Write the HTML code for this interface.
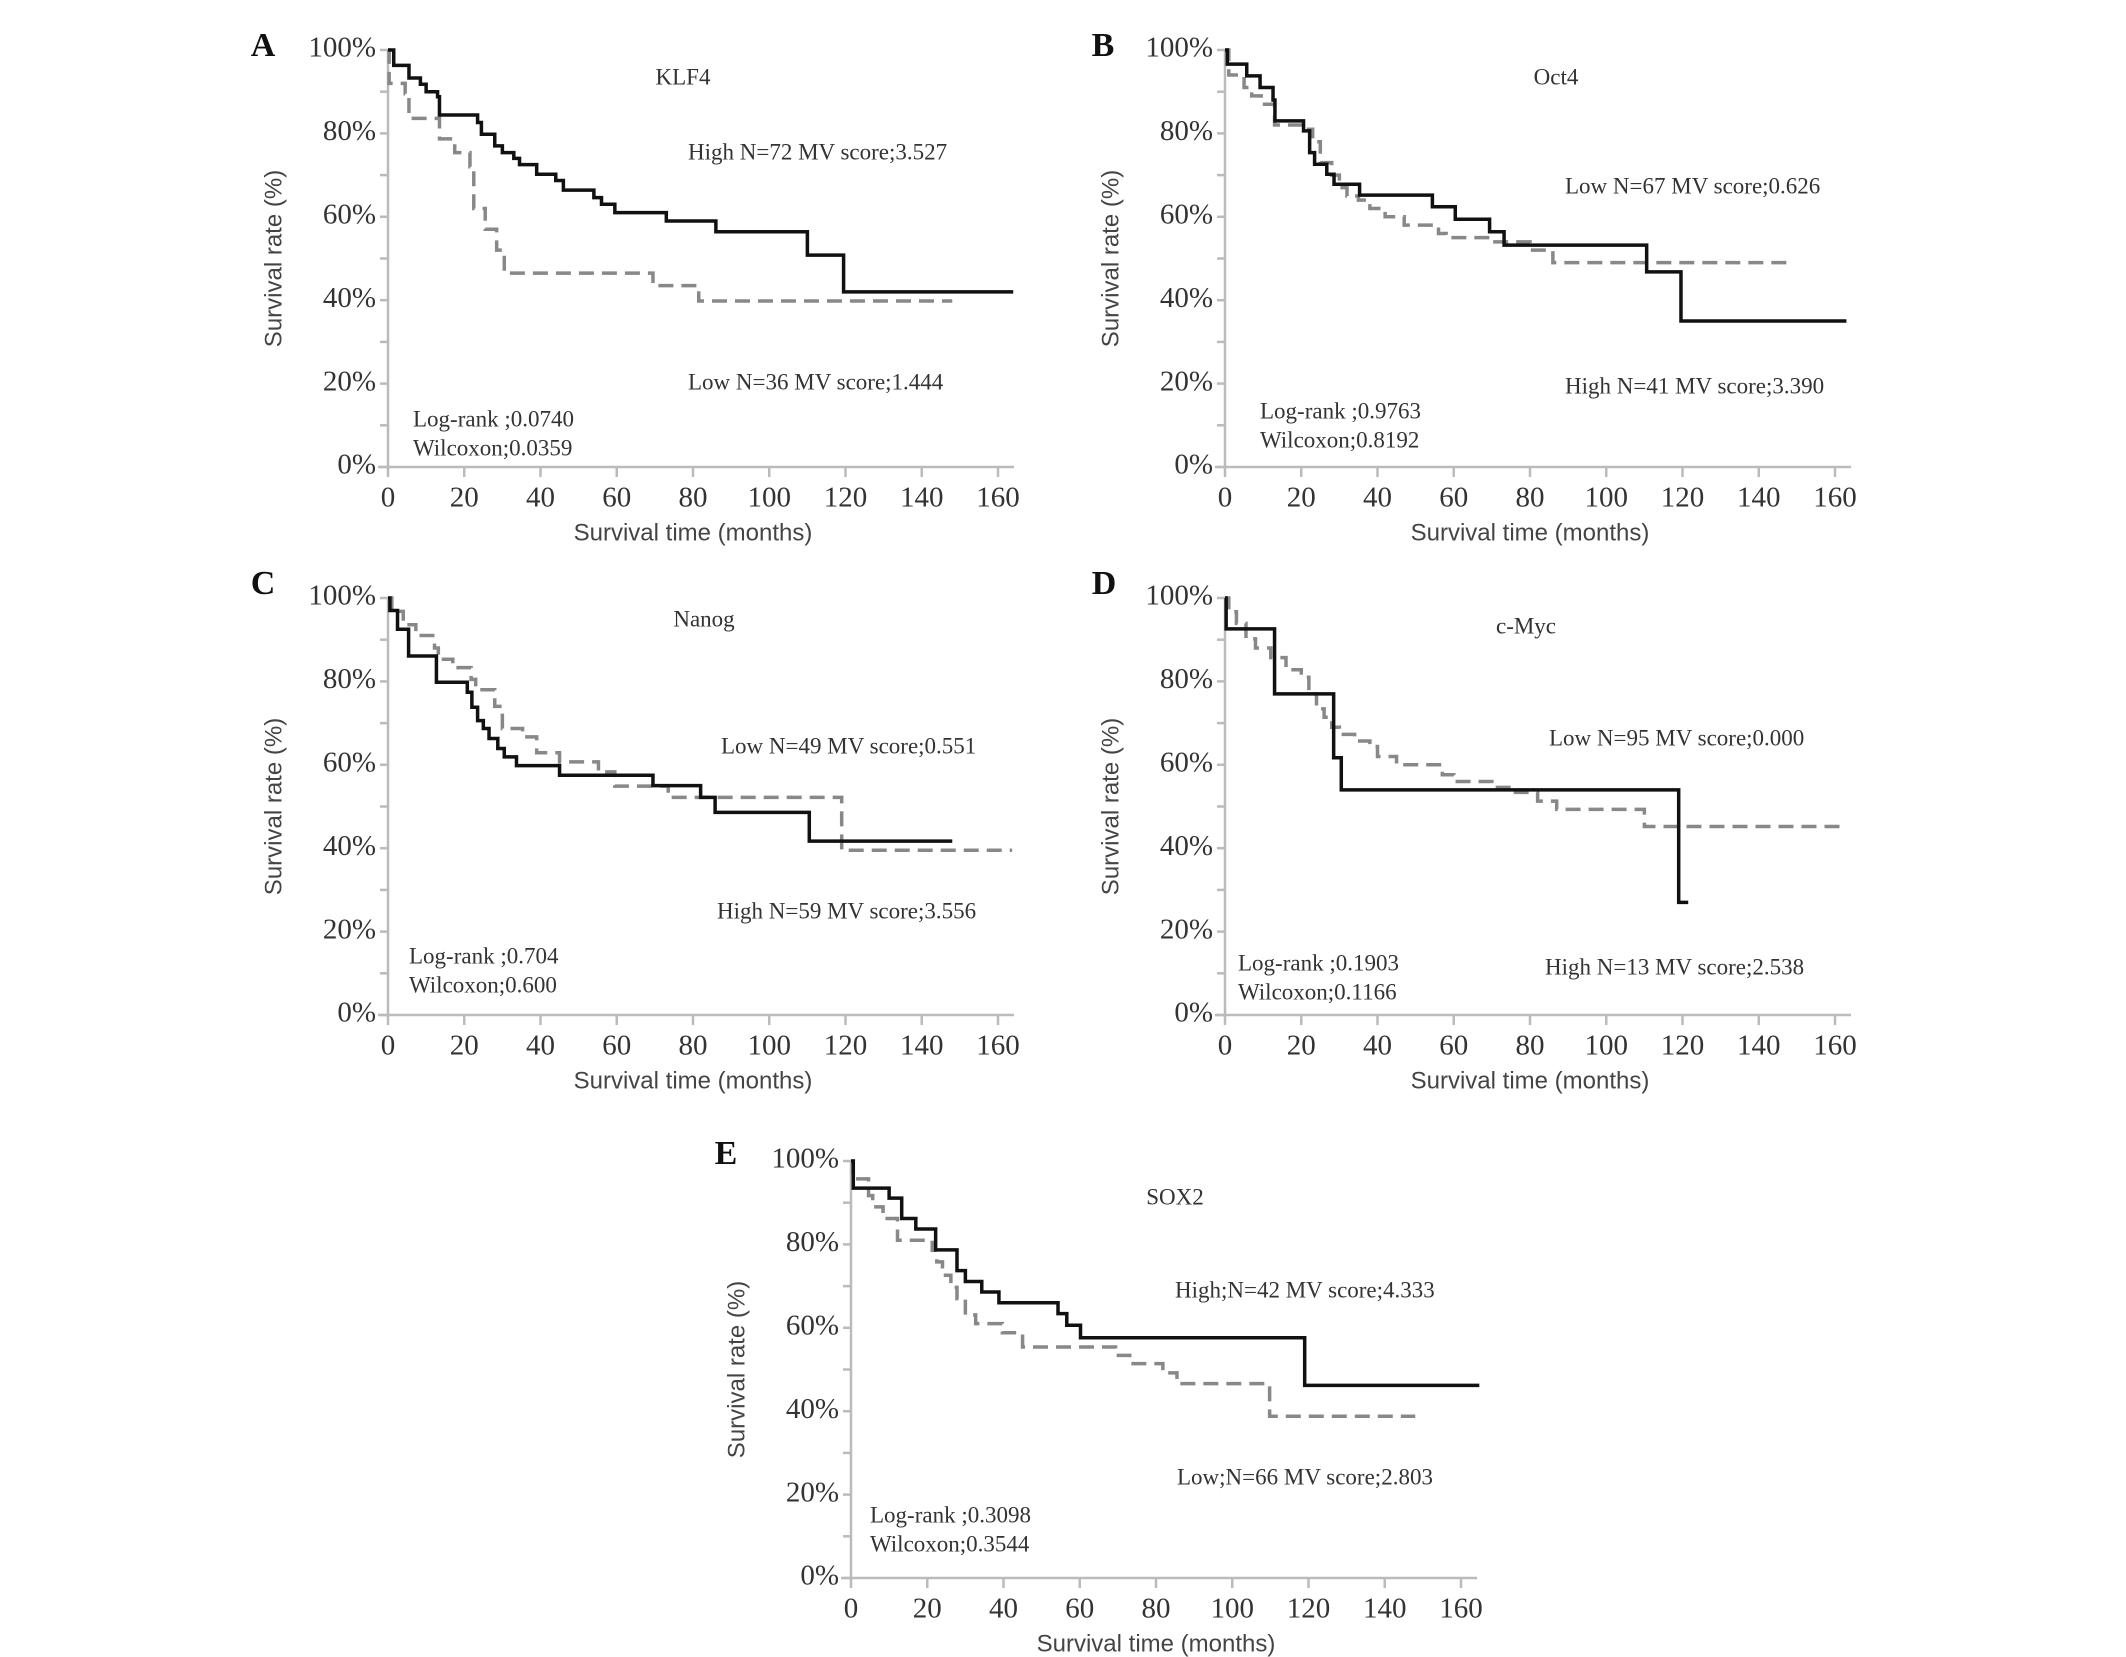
<!DOCTYPE html>
<html><head><meta charset="utf-8">
<style>
html,body{margin:0;padding:0;background:#fff;}
svg{display:block;}
.tk{font-family:"Liberation Serif",serif;font-size:29px;fill:#333;}
.ax{font-family:"Liberation Sans",sans-serif;font-size:24px;fill:#444;}
.an{font-family:"Liberation Serif",serif;font-size:23px;fill:#333;}
.pl{font-family:"Liberation Serif",serif;font-size:34px;font-weight:bold;fill:#111;}
</style></head>
<body>
<svg id="fig" width="2126" height="1657" viewBox="0 0 2126 1657" xmlns="http://www.w3.org/2000/svg"></svg>
<script>
// ---- data (months, survival %) ----
const xTicks = [0,20,40,60,80,100,120,140,160];
const yTicks = [0,20,40,60,80,100];

const aHighT = [0,1.5,5.5,8.5,10,13,13.5,23.5,24.5,28,30,33,34.5,39,44,46,54,56,59.5,73,86,110,119.5,164];
const aHighS = [100,96.3,93.3,91.8,90,88.8,84.4,82.6,79.8,77,75.4,74,72.5,70.2,68.7,66.4,64.6,63,61,59,56.4,50.8,42,42];
const aLowT = [0,0.3,4.5,5.5,13.5,17.5,21.5,22.5,25.5,28.5,30.5,69.5,81.5,148];
const aLowS = [100,92,89.5,83.6,78.7,75.4,72,62,57,52,46.5,43.5,39.8,39.8];

const bHighT = [0,0.6,5.7,9.2,12.6,13.1,20.6,22.2,23.5,26.7,28.6,35.3,54.4,60.4,69.4,73.2,110.6,119.6,163];
const bHighS = [100,96.6,93.8,91,88,83,80.6,75.4,72.6,70.2,67.8,65.2,62.4,59.4,56.4,53.2,46.8,35,35];
const bLowT = [0,1,5,7,9.5,13,20,23,25,28,30,32,35,38,42,47,56,58,70,80,86,148];
const bLowS = [100,94,91,89,87,82,81,78,73,70,67,65,64,62,60,58,56,55,54,52,49,49];

const cHighT = [0,0.5,2.5,5.4,12.7,20.8,22,23.5,25,26.5,28.8,30.5,33.7,45,69.5,82,85.8,110.5,148];
const cHighS = [100,97,92.5,86.1,79.8,77.4,73.8,70.6,68.7,66.3,63.9,61.9,59.8,57.5,55,52.2,48.6,41.7,41.7];
const cLowT = [0,1,4,7.3,12.2,13.2,17,21.8,23,28,30,35.3,39,45,55.2,59.5,73.5,119,163.7];
const cLowS = [100,96.8,93.6,91,88,85.3,83.3,80.5,78,74,68.7,66.7,62.9,60.7,58.3,54.9,52.2,39.5,39.5];

const dHighT = [0,0.3,13,28.5,30.5,119,121.5];
const dHighS = [100,92.6,77,61.7,54,27,27];
const dLowT = [0,1,3,5.5,8,12,16,20,22,24,26,28,30,34,38,40,45,57,60,70,75,82,87,110,163];
const dLowS = [100,96.7,93.9,90.2,88,85.7,82.8,81,77,73.4,71.4,69,67.3,65.7,64.4,62,60,57.6,56,54.6,53.4,51.3,49.3,45.2,45.2];

const eHighT = [0,0.6,10,13.3,17,22.2,27.8,30,34.3,38.8,54.3,56.6,60.2,119,164.8];
const eHighS = [100,93.5,91.1,86.2,83.7,78.7,73.7,71.1,68.6,66,63.4,60.6,57.6,46.2,46.2];
const eLowT = [0,0.5,4.6,5.7,8.4,12.2,21.3,22.5,24,26.2,27.8,30,32.7,39.7,45,69.4,73.1,81.8,85.5,109.8,148];
const eLowS = [100,95.7,91.7,89,86.2,81,78.6,75.8,72.6,69.7,67,63.1,61,58.8,55.4,53.4,51.4,49.2,46.6,38.8,38.8];

// ---- layout ----
const panels = [
 {id:'a',letter:'A',x0:388,y0:50,title:'KLF4',tx:295,ty:29,
  s1:{t:aHighT,s:aHighS,solid:true},s2:{t:aLowT,s:aLowS,solid:false},
  upper:'High N=72 MV score;3.527',ux:300,uy:104,lower:'Low N=36 MV score;1.444',lx:300,ly:334,
  lr:'Log-rank ;0.0740',wc:'Wilcoxon;0.0359',sx:25,sy:371,lpx:263,lpy:48},
 {id:'b',letter:'B',x0:1225,y0:50,title:'Oct4',tx:331,ty:29,
  s1:{t:bHighT,s:bHighS,solid:true},s2:{t:bLowT,s:bLowS,solid:false},
  upper:'Low N=67 MV score;0.626',ux:340,uy:138,lower:'High N=41 MV score;3.390',lx:340,ly:338,
  lr:'Log-rank ;0.9763',wc:'Wilcoxon;0.8192',sx:35,sy:363,lpx:1103,lpy:48},
 {id:'c',letter:'C',x0:388,y0:598,title:'Nanog',tx:316,ty:23,
  s1:{t:cHighT,s:cHighS,solid:true},s2:{t:cLowT,s:cLowS,solid:false},
  upper:'Low N=49 MV score;0.551',ux:333,uy:150,lower:'High N=59 MV score;3.556',lx:329,ly:315,
  lr:'Log-rank ;0.704',wc:'Wilcoxon;0.600',sx:21,sy:360,lpx:263,lpy:586},
 {id:'d',letter:'D',x0:1225,y0:598,title:'c-Myc',tx:301,ty:30,
  s1:{t:dHighT,s:dHighS,solid:true},s2:{t:dLowT,s:dLowS,solid:false},
  upper:'Low N=95 MV score;0.000',ux:324,uy:142,lower:'High N=13 MV score;2.538',lx:320,ly:371,
  lr:'Log-rank ;0.1903',wc:'Wilcoxon;0.1166',sx:13,sy:367,lpx:1104,lpy:586},
 {id:'e',letter:'E',x0:851,y0:1161,title:'SOX2',tx:324,ty:38,
  s1:{t:eHighT,s:eHighS,solid:true},s2:{t:eLowT,s:eLowS,solid:false},
  upper:'High;N=42 MV score;4.333',ux:324,uy:131,lower:'Low;N=66 MV score;2.803',lx:326,ly:318,
  lr:'Log-rank ;0.3098',wc:'Wilcoxon;0.3544',sx:19,sy:356,lpx:726,lpy:1156}
];
const W = 610, H = 417;
const NS = 'http://www.w3.org/2000/svg';
const svg = document.getElementById('fig');
function mk(tag, attrs, parent){
  const e = document.createElementNS(NS, tag);
  for (const k in attrs) e.setAttribute(k, attrs[k]);
  parent.appendChild(e);
  return e;
}
function txt(parent, x, y, cls, str, anchor){
  const t = mk('text', {x:x, y:y, class:cls, 'text-anchor':anchor||'start', 'dominant-baseline':'middle'}, parent);
  t.textContent = str;
  return t;
}

panels.forEach(p => {
  const xs = m => p.x0 + m / 160 * W;
  const ys = v => p.y0 + (100 - v) / 100 * H;
  const g = mk('g', {}, svg);
  
  

  const L = txt(g, p.lpx, p.lpy, 'pl', p.letter, 'middle');
  
  

  const axis = mk('g', {stroke:'#bbb','stroke-width':2.5,fill:'none'}, g);
  
  
  mk('line', {x1:xs(0), y1:ys(100), x2:xs(0), y2:ys(0)+2}, axis);
  mk('line', {x1:xs(0)-10, y1:ys(0), x2:xs(164.2), y2:ys(0)}, axis);
  for (let v = 0; v <= 100; v += 10) mk('line', {x1:xs(0)-8, y1:ys(v), x2:xs(0), y2:ys(v)}, axis);
  xTicks.forEach(m => mk('line', {x1:xs(m), y1:ys(0), x2:xs(m), y2:ys(0)+10}, axis));

  yTicks.forEach(v => {
    const t = txt(g, xs(0) - 12, ys(v), 'tk', v + '%', 'end');
    
    
  });
  xTicks.forEach(m => {
    const t = txt(g, xs(m), ys(0) + 33, 'tk', String(m), 'middle');
    
    
  });
  const xt = txt(g, xs(80), ys(0) + 67, 'ax', 'Survival time (months)', 'middle');
  
  
  const cy = ys(50);
  const yt = mk('text', {x:p.x0-113, y:cy, class:'ax', 'text-anchor':'middle', 'dominant-baseline':'middle', transform:'rotate(-90 '+(p.x0-113)+' '+cy+')'}, g);
  yt.textContent = 'Survival rate (%)';
  
  

  [p.s2, p.s1].forEach(s => {
    let d = 'M' + xs(s.t[0]) + ' ' + ys(s.s[0]);
    for (let i = 1; i < s.t.length; i++) {
      d += ' H' + xs(s.t[i]) + ' V' + ys(s.s[i]);
    }
    const path = mk('path', {d:d, fill:'none', stroke: s.solid ? '#111' : '#888',
      'stroke-width': 3.5, 'stroke-dasharray': s.solid ? 'none' : '15 8'}, g);
    
    
  });

  const tt = txt(g, p.x0 + p.tx, p.y0 + p.ty, 'an', p.title, 'middle');
  
  
  const u = txt(g, p.x0 + p.ux, p.y0 + p.uy, 'an', p.upper);
  
  
  const lo = txt(g, p.x0 + p.lx, p.y0 + p.ly, 'an', p.lower);
  
  
  const a1 = txt(g, p.x0 + p.sx, p.y0 + p.sy, 'an', p.lr);
  
  
  const a2 = txt(g, p.x0 + p.sx, p.y0 + p.sy + 29, 'an', p.wc);
  
  
});
</script>
</body></html>
